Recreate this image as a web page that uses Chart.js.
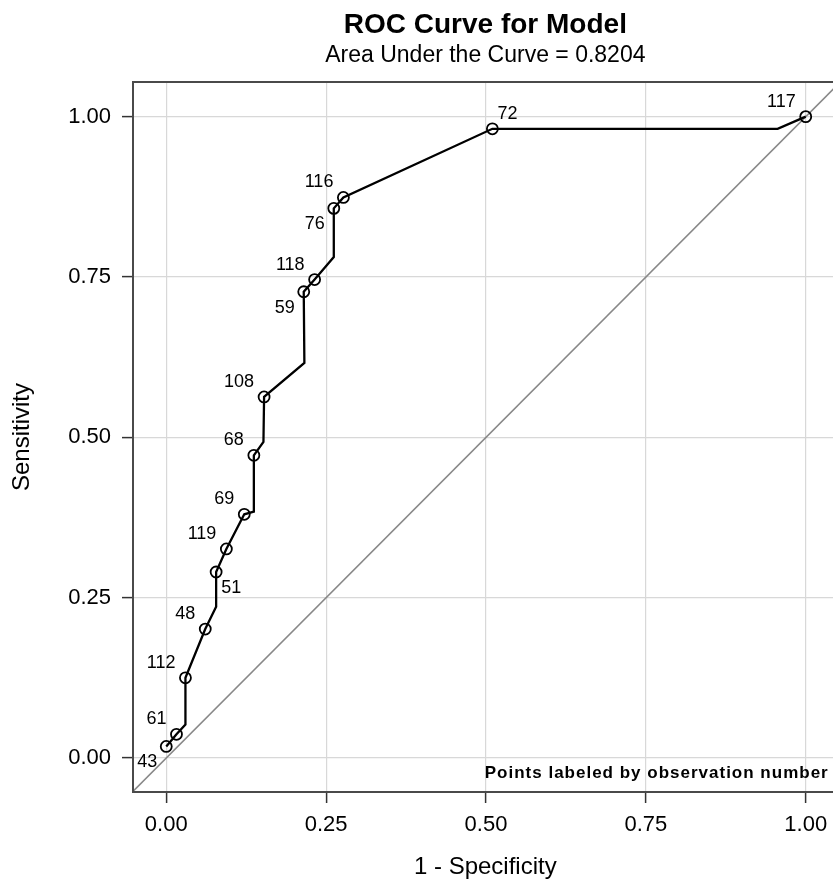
<!DOCTYPE html>
<html>
<head>
<meta charset="utf-8">
<script src="https://cdn.jsdelivr.net/npm/chart.js@4.4.1/dist/chart.umd.min.js"></script>
<style>
  html, body { margin: 0; padding: 0; background: #fff; overflow: hidden; }
</style>
</head>
<body>
<canvas id="roc" width="845" height="882"></canvas>
<script>
// ROC path: 1 - specificity, sensitivity; obs is the observation number (null = unmarked corner)
const fpr = [0.000, 0.016, 0.030, 0.030, 0.061, 0.078, 0.078, 0.094, 0.122, 0.137, 0.137,
             0.152, 0.153, 0.216, 0.215, 0.232, 0.262, 0.262, 0.277, 0.510, 0.956, 1.000];
const tpr = [0.018, 0.037, 0.052, 0.125, 0.201, 0.236, 0.290, 0.326, 0.380, 0.384, 0.472,
             0.493, 0.563, 0.616, 0.727, 0.746, 0.781, 0.857, 0.874, 0.981, 0.981, 1.000];
const obs = ['43', '61', null, '112', '48', null, '51', '119', '69', null, '68',
             null, '108', null, '59', '118', null, '76', '116', '72', null, '117'];
// which side of the marker the number sits on
const labelSide = ['sw', 'nw', null, 'nw', 'nw', null, 'se', 'nw', 'nw', null, 'nw',
                   null, 'nw', null, 'sw', 'nw', null, 'sw', 'nw', 'ne', null, 'nw'];

const diagX = [-0.1, 1.1];
const tickVals = [0, 0.25, 0.5, 0.75, 1];

const titleText = 'ROC Curve for Model';
const subtitleText = 'Area Under the Curve = 0.8204';
const noteText = 'Points labeled by observation number';

const FONT = '"Liberation Sans", Arial, sans-serif';

const curvePts = fpr.map((x, i) => ({ x, y: tpr[i] }));
const diagPts = diagX.map(v => ({ x: v, y: v }));

const titlePlugin = {
  id: 'titles',
  afterDraw(chart) {
    const { ctx, chartArea } = chart;
    const cx = (chartArea.left + chartArea.right) / 2;
    ctx.save();
    ctx.fillStyle = '#000';
    ctx.textAlign = 'center';
    ctx.textBaseline = 'alphabetic';
    ctx.font = 'bold 28px ' + FONT;
    ctx.fillText(titleText, cx, 33);
    ctx.font = '23px ' + FONT;
    ctx.fillText(subtitleText, cx, 62);
    ctx.restore();
  }
};

const framePlugin = {
  id: 'frame',
  afterDatasetsDraw(chart) {
    const { ctx, chartArea: a } = chart;
    ctx.save();
    ctx.strokeStyle = '#4a4a4a';
    ctx.lineWidth = 2;
    ctx.strokeRect(a.left, a.top, a.right - a.left, a.bottom - a.top);
    ctx.restore();
  }
};

const labelPlugin = {
  id: 'obsLabels',
  afterDatasetsDraw(chart) {
    const { ctx, chartArea: a } = chart;
    const xs = chart.scales.x, ys = chart.scales.y;
    ctx.save();
    ctx.fillStyle = '#000';
    ctx.font = '18px ' + FONT;
    ctx.textBaseline = 'alphabetic';
    obs.forEach((lab, i) => {
      if (!lab) return;
      const px = xs.getPixelForValue(fpr[i]);
      const py = ys.getPixelForValue(tpr[i]);
      const side = labelSide[i];
      if (side === 'nw') { ctx.textAlign = 'right'; ctx.fillText(lab, px - 10, py - 10); }
      if (side === 'sw') { ctx.textAlign = 'right'; ctx.fillText(lab, px - 9, py + 21); }
      if (side === 'se') { ctx.textAlign = 'left'; ctx.fillText(lab, px + 5, py + 21); }
      if (side === 'ne') { ctx.textAlign = 'left'; ctx.fillText(lab, px + 5, py - 10); }
    });
    ctx.font = 'bold 17px ' + FONT;
    ctx.letterSpacing = '1px';
    ctx.textAlign = 'right';
    ctx.fillText(noteText, a.right - 9, a.bottom - 14);
    ctx.restore();
  }
};

new Chart(document.getElementById('roc'), {
  type: 'scatter',
  data: {
    datasets: [
      {
        label: 'ROC',
        data: curvePts,
        showLine: true,
        borderColor: '#000',
        borderWidth: 2.3,
        pointRadius: obs.map(o => (o ? 5.5 : 0)),
        pointBorderWidth: 1.8,
        pointBorderColor: '#000',
        pointBackgroundColor: 'rgba(0,0,0,0)',
        order: 0
      },
      {
        label: 'Chance',
        data: diagPts,
        showLine: true,
        borderColor: '#888',
        borderWidth: 1.6,
        pointRadius: 0,
        order: 1
      }
    ]
  },
  options: {
    responsive: false,
    animation: false,
    layout: { padding: { top: 82, right: 5, bottom: 0, left: 0 } },
    plugins: {
      legend: { display: false },
      tooltip: { enabled: false },
      title: { display: false }
    },
    scales: {
      x: {
        type: 'linear',
        min: -0.052,
        max: 1.05,
        afterBuildTicks: s => { s.ticks = tickVals.map(v => ({ value: v })); },
        afterFit: s => { s.height = 90; },
        ticks: {
          callback: v => v.toFixed(2),
          font: { family: FONT, size: 22 },
          color: '#000',
          padding: 9,
          maxRotation: 0,
          autoSkip: false
        },
        grid: { color: '#d8d8d8', lineWidth: 1.2, tickColor: '#333', tickLength: 11, tickWidth: 1.5 },
        border: { display: false },
        title: {
          display: true,
          text: '1 - Specificity',
          font: { family: FONT, size: 24 },
          color: '#000',
          padding: { top: 0, bottom: 0 }
        }
      },
      y: {
        type: 'linear',
        min: -0.053,
        max: 1.054,
        afterBuildTicks: s => { s.ticks = tickVals.map(v => ({ value: v })); },
        afterFit: s => { s.width = 133; },
        ticks: {
          callback: v => v.toFixed(2),
          font: { family: FONT, size: 22 },
          color: '#000',
          padding: 11
        },
        grid: { color: '#d8d8d8', lineWidth: 1.2, tickColor: '#333', tickLength: 11, tickWidth: 1.5 },
        border: { display: false },
        title: {
          display: true,
          text: 'Sensitivity',
          font: { family: FONT, size: 24 },
          color: '#000',
          padding: { top: 8, bottom: 0 }
        }
      }
    }
  },
  plugins: [titlePlugin, framePlugin, labelPlugin]
});
</script>
</body>
</html>
